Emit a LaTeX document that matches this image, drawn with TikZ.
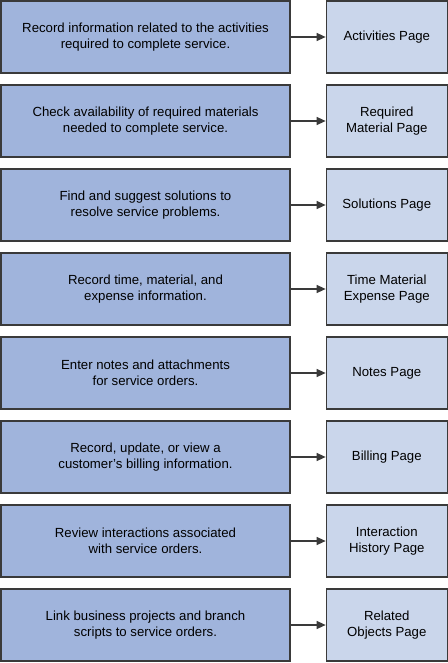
\documentclass[tikz,border=0pt]{standalone}
\usepackage{fontspec}
\setmainfont{Liberation Sans}
\usetikzlibrary{positioning,arrows.meta}
\definecolor{taskblue}{HTML}{A0B4DC}
\definecolor{pageblue}{HTML}{CAD6EB}
\definecolor{edgegray}{HTML}{3A3A3A}
\tikzset{
	task/.style={draw=edgegray, fill=taskblue, line width=1.3pt,
				 minimum width=289pt, minimum height=72pt, align=center,
				 font=\fontsize{13.2pt}{16pt}\selectfont, inner sep=0pt},
	page/.style={draw=edgegray, fill=pageblue, line width=1.3pt,
				 minimum width=121pt, minimum height=72pt, align=center,
				 font=\fontsize{13.2pt}{16pt}\selectfont, inner sep=0pt},
	>={Triangle[length=9pt,width=8pt]},
	every picture/.style={->,line width=1.3pt,draw=edgegray},
}
\begin{document}
\begin{tikzpicture}[x=1pt,y=1pt]
\useasboundingbox (0,0) rectangle (447,-663);

\node[task](act) at (145.5,-37) {Record information related to the activities\\required to complete service.};
\node[task](mat) at (145.5,-121) {Check availability of required materials\\needed to complete service.};
\node[task](sol) at (145.5,-205) {Find and suggest solutions to\\resolve service problems.};
\node[task](tme) at (145.5,-289) {Record time, material, and\\expense information.};
\node[task](notes) at (145.5,-373) {Enter notes and attachments\\for service orders.};
\node[task](bill) at (145.5,-457) {Record, update, or view a\\customer's billing information.};
\node[task](hist) at (145.5,-541) {Review interactions associated\\with service orders.};
\node[task](rel) at (145.5,-625) {Link business projects and branch\\scripts to service orders.};

\node[page, right=35pt of act](actpage) {Activities Page};
\node[page, right=35pt of mat](matpage) {Required\\Material Page};
\node[page, right=35pt of sol](solpage) {Solutions Page};
\node[page, right=35pt of tme](tmepage) {Time Material\\Expense Page};
\node[page, right=35pt of notes](notespage) {Notes Page};
\node[page, right=35pt of bill](billpage) {Billing Page};
\node[page, right=35pt of hist](histpage) {Interaction\\History Page};
\node[page, right=35pt of rel](relpage) {Related\\Objects Page};

\draw (act) -- (actpage);
\draw (mat) -- (matpage);
\draw (sol) -- (solpage);
\draw (tme) -- (tmepage);
\draw (notes) -- (notespage);
\draw (bill) -- (billpage);
\draw (hist) -- (histpage);
\draw (rel) -- (relpage);

\end{tikzpicture}
\end{document}
